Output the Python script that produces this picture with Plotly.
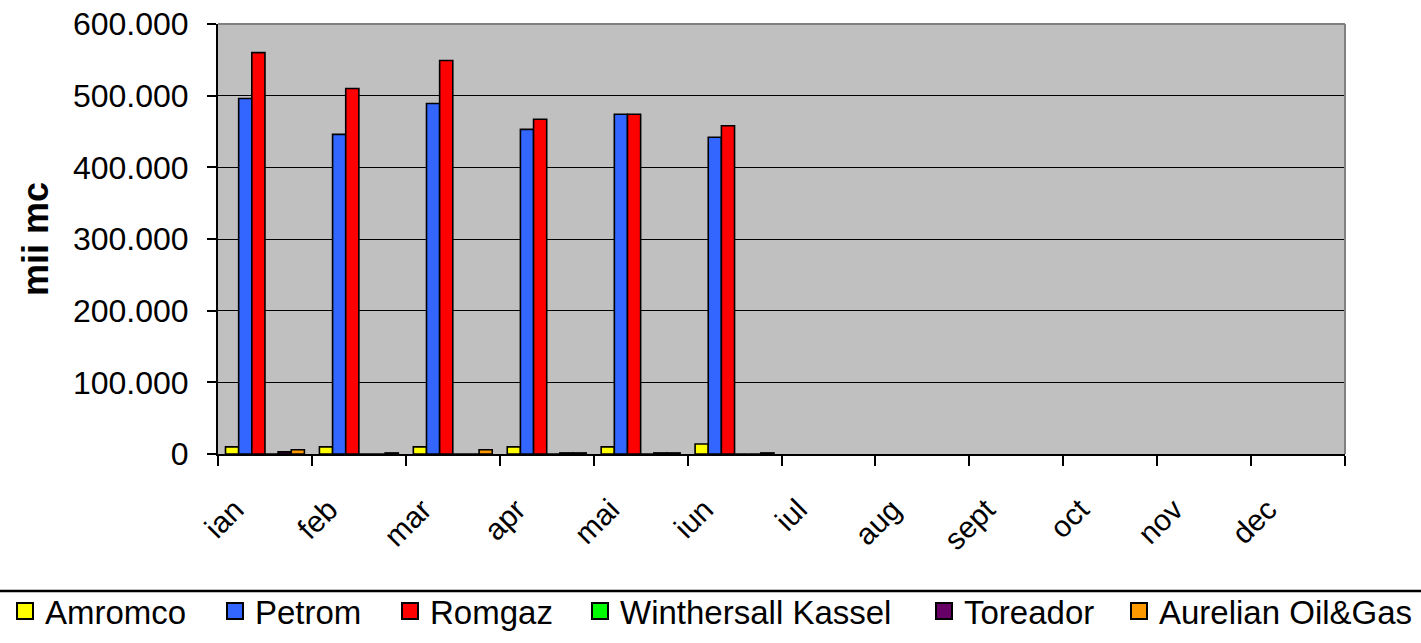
import plotly.graph_objects as go

months = ["ian", "feb", "mar", "apr", "mai", "iun", "iul", "aug", "sept", "oct", "nov", "dec"]
amromco = [10000, 10000, 10000, 10000, 10000, 14000, None, None, None, None, None, None]
petrom = [496000, 446000, 489000, 453000, 474000, 442000, None, None, None, None, None, None]
romgaz = [560000, 510000, 549000, 467000, 474000, 458000, None, None, None, None, None, None]
winthersall = [0, 0, 0, 0, 0, 0, None, None, None, None, None, None]
toreador = [3000, 0, 0, 1500, 1500, 0, None, None, None, None, None, None]
aurelian = [6000, 1500, 6000, 1500, 1500, 1500, None, None, None, None, None, None]

series = [
    ("Amromco", amromco, "#FFFF00"),
    ("Petrom", petrom, "#3366FF"),
    ("Romgaz", romgaz, "#FF0000"),
    ("Winthersall Kassel", winthersall, "#00FF00"),
    ("Toreador", toreador, "#660066"),
    ("Aurelian Oil&Gas", aurelian, "#FF9900"),
]

W, H = 1421, 643
L, R, T, B = 218, 76, 24, 189
PW = W - L - R
PH = H - T - B

# legend symbol centre positions (px)
legend_px = [25, 235, 410, 600, 944, 1139]

fig = go.Figure()
for i, (name, vals, col) in enumerate(series):
    fig.add_trace(go.Bar(
        x=months, y=vals, name=name,
        marker=dict(color=col, line=dict(color="black", width=1.6)),
        showlegend=False,
    ))
# legend entries (square swatches)
for i, (name, vals, col) in enumerate(series):
    lname = "legend" if i == 0 else f"legend{i+1}"
    fig.add_trace(go.Scatter(
        x=[None], y=[None], name=name, mode="markers",
        marker=dict(symbol="square", size=17, color=col, line=dict(color="black", width=2)),
        legend=lname, showlegend=True, hoverinfo="skip",
    ))

font_family = "Liberation Sans, Arial, sans-serif"
layout_legends = {}
for i, px in enumerate(legend_px):
    lname = "legend" if i == 0 else f"legend{i+1}"
    layout_legends[lname] = dict(
        x=(px - 20 - L) / PW, xanchor="left",
        y=(T + PH - 611) / PH, yanchor="middle",
        orientation="h", itemsizing="trace",
        bgcolor="rgba(0,0,0,0)", borderwidth=0,
        font=dict(family=font_family, size=33, color="black"),
    )

fig.update_layout(
    width=W, height=H,
    margin=dict(l=L, r=R, t=T, b=B, autoexpand=False),
    paper_bgcolor="white",
    plot_bgcolor="#C0C0C0",
    barmode="group",
    bargap=0.16,
    bargroupgap=0,
    separators=",.",
    font=dict(family=font_family, color="black"),
    showlegend=True,
    **layout_legends,
)

fig.update_yaxes(
    range=[0, 600000],
    tickvals=[0, 100000, 200000, 300000, 400000, 500000, 600000],
    tickformat=",d",
    tickfont=dict(size=32, family=font_family, color="black"),
    showgrid=True, gridcolor="black", gridwidth=1,
    showline=True, linecolor="black", linewidth=2,
    ticks="outside", ticklen=9, tickwidth=2, tickcolor="black",
    ticklabelstandoff=12,
    zeroline=False,
    title=dict(text="<b>mii mc</b>", font=dict(size=36, family=font_family, color="black"), standoff=13),
    automargin=False,
)
fig.update_xaxes(
    type="category",
    tickangle=-45,
    tickfont=dict(size=30, family=font_family, color="black"),
    showline=True, linecolor="black", linewidth=2,
    ticks="outside", ticklen=10, tickwidth=2, tickcolor="black",
    tickson="boundaries",
    ticklabelstandoff=24,
    ticklabelshift=-30,
    showgrid=False,
    automargin=False,
)

# grey plot-area border (top and right)
fig.add_shape(type="line", xref="paper", yref="paper", x0=0, x1=1, y0=1, y1=1,
              line=dict(color="#808080", width=2), layer="above")
fig.add_shape(type="line", xref="paper", yref="paper", x0=1, x1=1, y0=0, y1=1,
              line=dict(color="#808080", width=2), layer="above")
# legend frame top edge
ly = (T + PH - 591) / PH
fig.add_shape(type="line", xref="paper", yref="paper", x0=-0.3, x1=1.3, y0=ly, y1=ly,
              line=dict(color="black", width=2.5), layer="above")

fig.write_html("out.html", config={"displayModeBar": False},
               post_script="document.body.style.margin='0';")
